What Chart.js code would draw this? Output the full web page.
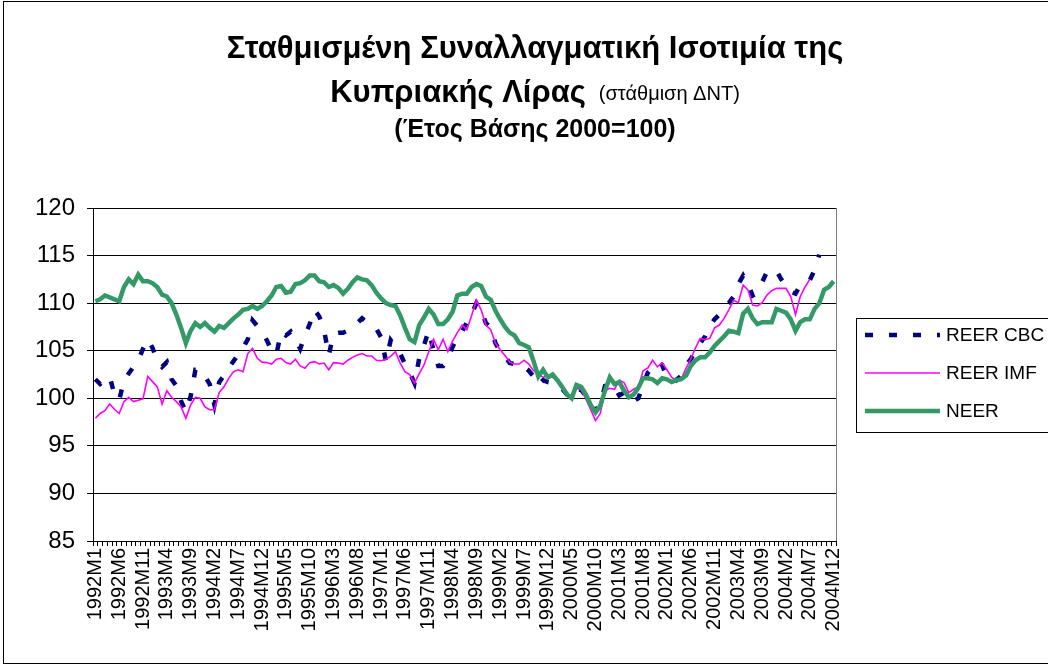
<!DOCTYPE html>
<html>
<head>
<meta charset="utf-8">
<script src="https://cdn.jsdelivr.net/npm/chart.js@4/dist/chart.umd.min.js"></script>
<style>
  body { margin: 0; background: #ffffff; }
  canvas { display: block; }
</style>
</head>
<body>
<canvas id="reerChart" width="1048" height="666"></canvas>
<script>
/* ---------- DATA ---------- */
const years = [1992, 1993, 1994, 1995, 1996, 1997, 1998, 1999, 2000, 2001, 2002, 2003, 2004];
const months = [1, 2, 3, 4, 5, 6, 7, 8, 9, 10, 11, 12];
const categories = [];
years.forEach(y => months.forEach(m => categories.push(y + "M" + m)));

const seriesNames = ["REER CBC", "REER IMF", "NEER"];

const reerCbc = [
  102.0, 101.5, 101.9, 102.3, 100.4, 99.8, 101.9, 102.6, 103.3, 104.0, 105.2, 106.2,
  105.3, 103.9, 103.3, 103.8, 102.0, 101.3, 99.7, 98.6, 100.2, 103.0, 103.0, 102.3,
  101.5, 99.3, 101.7, 102.4, 103.2, 103.9, 104.6, 105.3, 106.2, 108.2, 107.6, 106.9,
  106.1, 105.0, 104.6, 107.0, 106.6, 107.0, 106.2, 105.2, 106.6, 107.8, 109.3, 108.6,
  107.2, 104.5, 106.8, 106.9, 106.9, 107.1, 107.6, 107.9, 108.4, 108.0, 107.7, 107.3,
  106.4, 103.9, 106.1, 105.4, 104.7, 103.6, 102.7, 101.6, 104.2, 105.6, 107.1, 105.0,
  103.4, 103.4, 104.2, 105.4, 106.4, 107.0, 108.0, 108.8, 110.0, 109.2, 107.9, 107.4,
  105.8, 104.9, 104.4, 103.7, 103.6, 103.7, 103.3, 102.9, 102.3, 101.4, 101.9, 101.7,
  101.6, 101.5, 101.0, 100.4, 100.1, 100.9, 100.9, 100.2, 99.4, 98.7, 99.3, 101.3,
  101.5, 101.1, 100.3, 100.6, 100.0, 99.7, 100.0, 101.4, 102.7, 103.2, 103.8, 103.5,
  102.2, 102.3, 101.9, 102.4, 103.5, 104.1, 105.0, 105.8, 106.5, 107.6, 108.3, 108.8,
  109.6, 110.0, 110.7, 112.0, 112.9, 112.0, 110.8, 111.1, 112.2, 113.3, 113.5, 113.4,
  112.5, 111.8, 111.2, 111.0, 111.9, 112.2, 112.4, 113.5, 115.1, null, null, null
];

const reerImf = [
  97.9, 98.4, 98.7, 99.4, 98.85, 98.4, 99.65, 100.1, 99.65, 99.8, 99.95, 102.3,
  101.75, 101.2, 99.4, 100.8, 100.1, 99.65, 99.1, 97.9, 99.3, 100.1, 100.0, 99.1,
  98.8, 98.8, 100.6, 101.2, 102.1, 102.8, 103.0, 102.8, 104.7, 105.25, 104.2, 103.8,
  103.75, 103.6, 104.1, 104.2, 103.75, 103.6, 104.1, 103.4, 103.15, 103.75, 103.85, 103.6,
  103.7, 103.0, 103.75, 103.7, 103.6, 104.0, 104.3, 104.55, 104.7, 104.45, 104.45, 104.0,
  103.95, 104.1, 104.4, 104.9, 103.7, 102.8, 102.5, 101.6, 102.6, 103.5, 104.9, 106.2,
  105.1, 106.2, 104.9, 106.0, 106.9, 107.7, 107.2, 108.7, 110.3, 109.3, 107.7, 107.2,
  105.8, 105.1, 104.5, 103.8, 103.6, 103.6, 104.0, 103.6, 102.9, 102.6, 102.2, 102.4,
  102.2, 101.9, 101.3, 100.6, 100.0, 101.05, 100.9, 99.9, 98.8, 97.65, 98.4, 100.8,
  101.05, 100.95, 101.9, 101.65, 100.6, 100.95, 101.2, 102.9, 103.2, 104.0, 103.3, 103.75,
  103.0, 102.2, 101.9, 102.0, 103.15, 104.1, 105.3, 106.3, 106.15, 106.3, 107.4, 107.7,
  108.4, 109.3, 110.3, 110.05, 111.9, 111.4, 109.8, 109.7, 110.05, 110.85, 111.3, 111.55,
  111.55, 111.55, 110.7, 108.8, 110.7, 111.7, 112.5, null, null, null, null, null
];

const neer = [
  110.2, 110.4, 110.8, 110.6, 110.4, 110.2, 111.7, 112.5, 112.0, 113.0, 112.3, 112.3,
  112.1, 111.7, 110.9, 110.7, 110.0, 108.8, 107.4, 105.8, 107.1, 107.9, 107.5, 107.9,
  107.4, 107.0, 107.6, 107.4, 107.9, 108.4, 108.8, 109.3, 109.4, 109.7, 109.4, 109.7,
  110.2, 110.8, 111.7, 111.8, 111.1, 111.2, 112.0, 112.1, 112.4, 112.9, 112.9, 112.3,
  112.2, 111.7, 111.9, 111.6, 111.0, 111.5, 112.2, 112.7, 112.5, 112.4, 111.9, 111.1,
  110.5, 110.0, 109.8, 109.7, 108.7, 107.4, 106.2, 105.9, 107.7, 108.5, 109.4, 108.8,
  107.8, 107.8, 108.3, 109.1, 110.8, 111.0, 111.0, 111.7, 112.0, 111.8, 110.7, 110.35,
  109.2, 108.3, 107.5, 106.9, 106.6, 105.8, 105.6, 105.35, 103.9, 102.3, 103.0, 102.2,
  102.5, 101.9, 101.2, 100.4, 100.0, 101.4, 101.2, 100.4, 99.3, 98.5, 99.2, 100.8,
  102.2, 101.5, 101.7, 100.8, 100.1, 100.4, 101.1, 102.1, 102.1, 102.0, 101.6, 102.1,
  102.0, 101.7, 101.9, 102.0, 102.4, 103.4, 104.0, 104.3, 104.3, 104.8, 105.5, 106.0,
  106.5, 107.1, 107.0, 106.85, 108.9, 109.4, 108.4, 107.8, 108.0, 108.0, 108.0, 109.4,
  109.2, 109.0, 108.3, 107.1, 108.0, 108.3, 108.3, 109.4, 110.0, 111.4, 111.7, 112.3
];

const yTicks = [85, 90, 95, 100, 105, 110, 115, 120];

/* ---------- TEXT ---------- */
const titleLine1 = "Σταθμισμένη Συναλλαγματική Ισοτιμία της";
const titleLine2 = "Κυπριακής Λίρας";
const titleLine2Note = "(στάθμιση ΔΝΤ)";
const titleLine3 = "(Έτος Βάσης 2000=100)";

const FONT = '"Liberation Sans", Arial, sans-serif';

/* ---------- PLUGINS ---------- */
const frameAndTitle = {
    id: 'frameAndTitle',
    beforeDraw(chart) {
        const ctx = chart.ctx;
        ctx.save();
        ctx.fillStyle = '#ffffff';
        ctx.fillRect(0, 0, chart.width, chart.height);
        ctx.strokeStyle = '#000000';
        ctx.lineWidth = 1;
        ctx.strokeRect(3.5, 1.5, 1200, 662);
        ctx.restore();
    },
    afterDraw(chart) {
        const ctx = chart.ctx;
        const cx = 535;
        ctx.save();
        ctx.fillStyle = '#000000';
        ctx.textBaseline = 'alphabetic';

        // line 1
        ctx.font = 'bold 31px ' + FONT;
        ctx.textAlign = 'center';
        ctx.fillText(titleLine1, cx, 58);

        // line 2 (big bold part + small note)
        ctx.textAlign = 'left';
        ctx.font = 'bold 31px ' + FONT;
        const w1 = ctx.measureText(titleLine2).width;
        ctx.font = '20px ' + FONT;
        const w2 = ctx.measureText(titleLine2Note).width;
        const gap = 13;
        const x0 = cx - (w1 + gap + w2) / 2;
        ctx.font = 'bold 31px ' + FONT;
        ctx.fillText(titleLine2, x0, 102);
        ctx.font = '20px ' + FONT;
        ctx.fillText(titleLine2Note, x0 + w1 + gap, 100);

        // line 3
        ctx.font = 'bold 25px ' + FONT;
        ctx.textAlign = 'center';
        ctx.fillText(titleLine3, cx, 137);

        // plot area right border
        const a = chart.chartArea;
        ctx.strokeStyle = '#808080';
        ctx.lineWidth = 1;
        ctx.beginPath();
        ctx.moveTo(Math.round(a.right) + 0.5, a.top);
        ctx.lineTo(Math.round(a.right) + 0.5, a.bottom);
        ctx.stroke();

        // legend box
        ctx.strokeStyle = '#000000';
        ctx.strokeRect(856.5, 318.5, 300, 114);
        const rows = [335, 373, 411];
        chart.data.datasets.forEach((ds, i) => {
            const y = rows[i];
            ctx.strokeStyle = ds.borderColor;
            ctx.lineWidth = ds.borderWidth;
            ctx.lineCap = 'butt';
            ctx.setLineDash(ds.borderDash || []);
            ctx.beginPath();
            ctx.moveTo(865, y);
            ctx.lineTo(940, y);
            ctx.stroke();
            ctx.setLineDash([]);
            ctx.fillStyle = '#000000';
            ctx.font = '19px ' + FONT;
            ctx.textAlign = 'left';
            ctx.textBaseline = 'middle';
            ctx.fillText(ds.label, 946, y + 1);
        });
        ctx.restore();
    }
};

/* ---------- CHART ---------- */
document.addEventListener("DOMContentLoaded", () => {
    const ctx = document.getElementById("reerChart").getContext('2d');

    new Chart(ctx, {
        type: 'line',
        data: {
            labels: categories,
            datasets: [
                {
                    label: seriesNames[0],
                    data: reerCbc,
                    borderColor: '#000080',
                    borderWidth: 4.5,
                    borderDash: [8, 16],
                    borderCapStyle: 'butt',
                    pointRadius: 0,
                    tension: 0,
                    order: 3
                },
                {
                    label: seriesNames[1],
                    data: reerImf,
                    borderColor: '#ff00ff',
                    borderWidth: 1.6,
                    pointRadius: 0,
                    tension: 0,
                    order: 2
                },
                {
                    label: seriesNames[2],
                    data: neer,
                    borderColor: '#339966',
                    borderWidth: 4.5,
                    pointRadius: 0,
                    tension: 0,
                    order: 1
                }
            ]
        },
        options: {
            responsive: false,
            animation: false,
            devicePixelRatio: 1,
            spanGaps: false,
            layout: {
                padding: { left: 0, top: 208, right: 212, bottom: 0 }
            },
            plugins: {
                legend: { display: false },
                title: { display: false },
                tooltip: { enabled: false }
            },
            scales: {
                x: {
                    type: 'category',
                    offset: true,
                    afterFit(scale) { scale.height = 125; },
                    border: { display: true, color: '#000000', width: 1 },
                    grid: {
                        offset: true,
                        drawOnChartArea: false,
                        drawTicks: true,
                        tickLength: 5,
                        color: '#000000'
                    },
                    ticks: {
                        autoSkip: false,
                        maxRotation: 90,
                        minRotation: 90,
                        padding: 2,
                        color: '#000000',
                        font: { family: FONT, size: 20 },
                        callback: function(val, idx) {
                            return idx % 5 === 0 ? this.getLabelForValue(val) : '';
                        }
                    }
                },
                y: {
                    min: yTicks[0],
                    max: yTicks[yTicks.length - 1],
                    afterFit(scale) { scale.width = 93; },
                    afterBuildTicks(scale) {
                        scale.ticks = yTicks.map(v => ({ value: v }));
                    },
                    border: { display: true, color: '#000000', width: 1 },
                    grid: {
                        color: '#000000',
                        lineWidth: 1,
                        drawTicks: true,
                        tickLength: 6
                    },
                    ticks: {
                        padding: 12,
                        color: '#000000',
                        font: { family: FONT, size: 24 }
                    }
                }
            }
        },
        plugins: [frameAndTitle]
    });
});
</script>
</body>
</html>
